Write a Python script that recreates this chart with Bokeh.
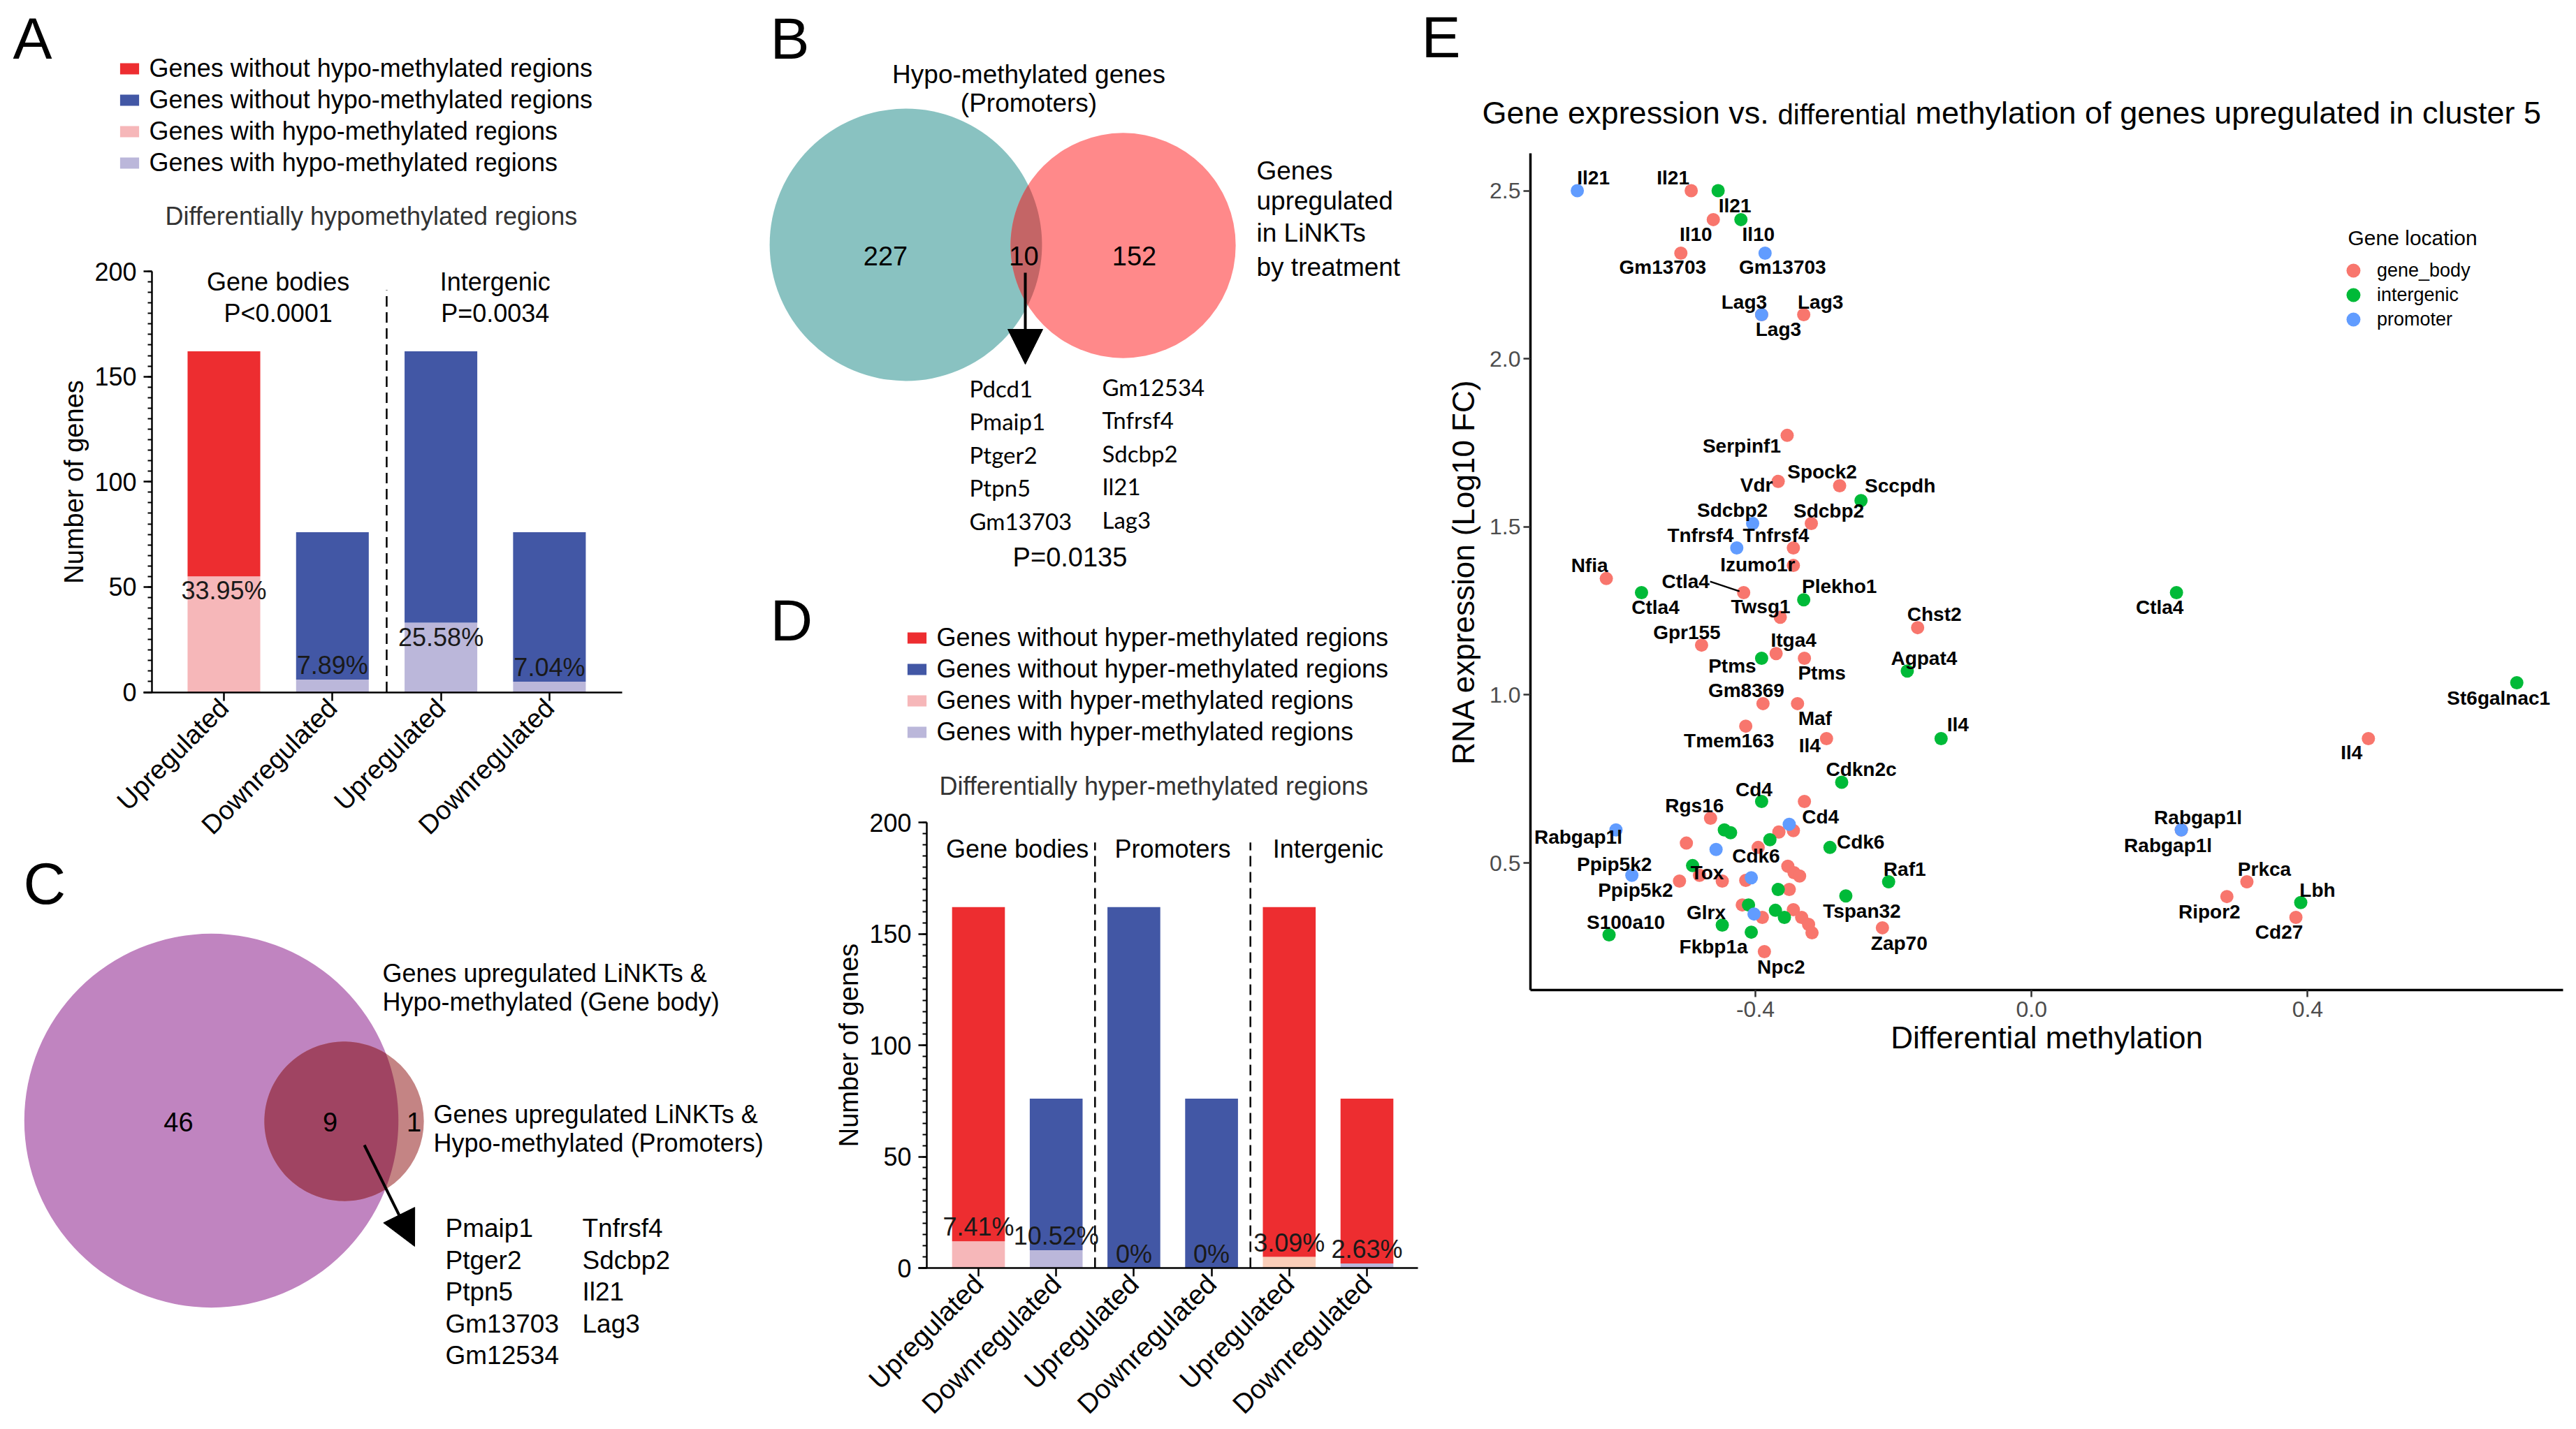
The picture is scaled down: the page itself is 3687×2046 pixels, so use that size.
import math
import numpy as np
from bokeh.plotting import figure
from bokeh.models import (ColumnDataSource, Range1d, LinearAxis, FixedTicker,
                          SingleIntervalTicker, Legend, LegendItem, Label, Arrow,
                          NormalHead, CDSView, GroupFilter, PrintfTickFormatter)
from bokeh.layouts import row, column
from bokeh.embed import file_html
from bokeh.resources import INLINE
from bokeh.core.properties import value

# ======================= DATA =======================
# Panel A : differentially hypo-methylated regions
A_categories = ["Upregulated", "Downregulated", "Upregulated", "Downregulated"]
A_groups = ["Gene bodies", "Intergenic"]
A_group_sizes = [2, 2]
A_pvalues = ["P<0.0001", "P=0.0034"]
A_total = [162, 76, 162, 76]
A_with = [55, 6, 33, 5]
A_percent = ["33.95%", "7.89%", "25.58%", "7.04%"]
A_legend = ["Genes without hypo-methylated regions", "Genes without hypo-methylated regions",
            "Genes with hypo-methylated regions", "Genes with hypo-methylated regions"]
A_subtitle = "Differentially hypomethylated regions"

# Panel D : differentially hyper-methylated regions
D_categories = ["Upregulated", "Downregulated"] * 3
D_groups = ["Gene bodies", "Promoters", "Intergenic"]
D_group_sizes = [2, 2, 2]
D_total = [162, 76, 162, 76, 162, 76]
D_with = [12, 8, 0, 0, 5, 2]
D_percent = ["7.41%", "10.52%", "0%", "0%", "3.09%", "2.63%"]
D_legend = ["Genes without hyper-methylated regions", "Genes without hyper-methylated regions",
            "Genes with hyper-methylated regions", "Genes with hyper-methylated regions"]
D_subtitle = "Differentially hyper-methylated regions"

# Panel B : Venn
B_counts = [227, 10, 152]          # left only, both, right only
B_left_title = ["Hypo-methylated genes", "(Promoters)"]
B_right_title = ["Genes", "upregulated", "in LiNKTs", "by treatment"]
B_genes_left = ["Pdcd1", "Pmaip1", "Ptger2", "Ptpn5", "Gm13703"]
B_genes_right = ["Gm12534", "Tnfrsf4", "Sdcbp2", "Il21", "Lag3"]
B_pvalue = "P=0.0135"

# Panel C : Venn
C_counts = [46, 9, 1]              # big only, both, small only
C_big_title = ["Genes upregulated LiNKTs &", "Hypo-methylated (Gene body)"]
C_small_title = ["Genes upregulated LiNKTs &", "Hypo-methylated (Promoters)"]
C_genes_left = ["Pmaip1", "Ptger2", "Ptpn5", "Gm13703", "Gm12534"]
C_genes_right = ["Tnfrsf4", "Sdcbp2", "Il21", "Lag3"]

# Panel E : scatter
E_gene = ["Il21", "Il21", "Il21", "Il10", "Il10", "Gm13703", "Gm13703", "Lag3", "Lag3", "Lag3",
          "Serpinf1", "Vdr", "Spock2", "Sccpdh", "Sdcbp2", "Sdcbp2", "Tnfrsf4", "Tnfrsf4", "Izumo1r", "Nfia",
          "Ctla4", "Ctla4", "Ctla4", "Twsg1", "Plekho1", "Chst2", "Gpr155", "Itga4", "Ptms", "Ptms",
          "Agpat4", "St6galnac1", "Gm8369", "Maf", "Tmem163", "Il4", "Il4", "Il4", "Cdkn2c", "Cd4",
          "Cd4", "Rgs16", "Rabgap1l", "Rabgap1l", "Rabgap1l", "", "", "", "", "Tox",
          "Ppip5k2", "Ppip5k2", "", "", "", "", "", "", "Glrx", "Fkbp1a",
          "S100a10", "", "", "", "", "Cdk6", "Cdk6", "", "", "",
          "Raf1", "", "", "Tspan32", "", "", "", "", "", "",
          "", "", "Zap70", "Npc2", "Prkca", "Ripor2", "Lbh", "Cd27"]
E_meth = [-0.658, -0.493, -0.454, -0.461, -0.421, -0.508, -0.386, -0.391, -0.330, -0.391,
          -0.354, -0.367, -0.278, -0.247, -0.404, -0.319, -0.427, -0.345, -0.345, -0.616,
          -0.565, -0.417, 0.210, -0.364, -0.330, -0.165, -0.478, -0.370, -0.391, -0.329,
          -0.180, 0.703, -0.389, -0.339, -0.414, -0.297, -0.131, 0.488, -0.275, -0.391,
          -0.329, -0.465, -0.602, 0.217, 0.217, -0.445, -0.436, -0.500, -0.457, -0.491,
          -0.579, -0.510, -0.481, -0.448, -0.414, -0.406, -0.419, -0.410, -0.448, -0.406,
          -0.612, -0.351, -0.366, -0.345, -0.379, -0.396, -0.292, -0.353, -0.344, -0.336,
          -0.207, -0.367, -0.351, -0.269, -0.402, -0.390, -0.371, -0.358, -0.345, -0.333,
          -0.323, -0.318, -0.216, -0.387, 0.312, 0.283, 0.390, 0.383]
E_expr = [2.500, 2.500, 2.500, 2.414, 2.414, 2.314, 2.314, 2.131, 2.131, 2.131,
          1.772, 1.635, 1.622, 1.578, 1.510, 1.510, 1.437, 1.437, 1.385, 1.346,
          1.304, 1.304, 1.304, 1.231, 1.283, 1.200, 1.148, 1.123, 1.109, 1.109,
          1.071, 1.036, 0.974, 0.974, 0.907, 0.870, 0.870, 0.870, 0.740, 0.683,
          0.683, 0.633, 0.598, 0.598, 0.598, 0.598, 0.590, 0.559, 0.540, 0.492,
          0.463, 0.446, 0.463, 0.446, 0.448, 0.456, 0.375, 0.375, 0.315, 0.294,
          0.286, 0.615, 0.592, 0.596, 0.569, 0.546, 0.546, 0.490, 0.471, 0.461,
          0.444, 0.421, 0.421, 0.402, 0.348, 0.338, 0.359, 0.338, 0.361, 0.338,
          0.317, 0.292, 0.307, 0.236, 0.444, 0.400, 0.382, 0.338]
_g, _i, _p = "gene_body", "intergenic", "promoter"
E_loc = [_p, _g, _i, _g, _i, _g, _p, _p, _g, _g,
         _g, _g, _g, _i, _p, _g, _p, _g, _g, _g,
         _i, _g, _i, _g, _i, _g, _g, _g, _i, _g,
         _i, _i, _g, _g, _g, _g, _i, _g, _i, _i,
         _g, _g, _p, _p, _g, _i, _i, _g, _p, _i,
         _p, _g, _g, _g, _g, _p, _g, _i, _i, _i,
         _i, _p, _g, _g, _i, _g, _i, _g, _g, _g,
         _i, _i, _g, _i, _p, _g, _i, _i, _g, _g,
         _g, _g, _g, _g, _g, _g, _i, _g]
E_locations = ["gene_body", "intergenic", "promoter"]
E_title = ["Gene expression vs.", "differential", "methylation of genes upregulated in cluster 5"]

# label placement (screen pixel offsets of the repelled labels)
E_label_dx = [23, -26, 24, -25, 25, -26, 25, -25, 24, 24,
              -65, -31, -25, 56, -29, 25, -52, -25, -51, -24,
              20, -83, -24, -28, 51, 24, -21, 25, -42, 25,
              24, -26, -24, 25, -24, -24, 24, -24, 28, -11,
              23, -23, -54, 24, -19, 0, 0, 0, 0, 21,
              -25, -63, 0, 0, 0, 0, 0, 0, -23, -54,
              24, 0, 0, 0, 0, -3, 44, 0, 0, 0,
              23, 0, 0, 23, 0, 0, 0, 0, 0, 0,
              0, 0, 24, 24, 25, -25, 24, -24]
E_label_dy = [-19, -19, 21, 21, 21, 20, 20, -18, -18, 21,
              15, 5, -20, -21, -19, -18, -18, -18, -1, -19,
              21, -16, 21, -15, -19, -19, -18, -19, 11, 21,
              -18, 22, -19, 21, 21, 10, -20, 20, -19, -17,
              22, -18, 10, -18, 22, 0, 0, 0, 0, 10,
              -16, 13, 0, 0, 0, 0, 0, 0, -18, 21,
              -18, 0, 0, 0, 0, 12, -8, 0, 0, 0,
              -18, 0, 0, 22, 0, 0, 0, 0, 0, 0,
              0, 0, 22, 22, -18, 22, -18, 21]

# ======================= STYLE =======================
FONT = "Liberation Sans"
RED, BLUE, PINK, LAV, PEACH = "#ED2D30", "#4257A5", "#F6B7B9", "#BBB7DA", "#F9CDB8"
LOC_COLORS = {"gene_body": "#F8766D", "intergenic": "#00BA38", "promoter": "#619CFF"}


def base_fig(w, h, xr, yr):
    p = figure(width=w, height=h, x_range=xr, y_range=yr, x_axis_type=None, y_axis_type=None,
               toolbar_location=None, output_backend="svg", outline_line_color=None,
               min_border=0, min_border_left=0, min_border_right=0,
               min_border_top=0, min_border_bottom=0)
    p.background_fill_color = "white"
    p.border_fill_color = "white"
    return p


def screen_label(p, px0, py0, h, x, y, text, size, align="left", baseline="middle",
                 color="black", angle=0.0, font=FONT, style="normal"):
    p.add_layout(Label(x=x - px0, y=(py0 + h) - y, x_units="screen", y_units="screen",
                       text=text, text_font=font, text_font_size=size, text_align=align,
                       text_baseline=baseline, text_color=color, angle=angle,
                       text_font_style=style))


def bar_panel(w, h, px0, py0, geo, cats, group_sizes, groups, total, withv, pct,
              top_cols, bot_cols, legend_labels, subtitle, letter, pvals=None):
    ppu = (geo["zero"] - geo["top"]) / 200.0

    def xv(px):
        return (px - geo["bar0"]) / geo["pitch"]

    def yv(py):
        return (geo["zero"] - py) / ppu

    p = base_fig(w, h, Range1d(xv(px0), xv(px0 + w)), Range1d(yv(py0 + h), yv(py0)))
    n = len(cats)
    idx = list(range(n))
    src = ColumnDataSource(dict(x=idx, total=total, low=withv, tc=top_cols, bc=bot_cols))
    r_bot = p.vbar(x="x", bottom=0, top="low", width=geo["bw"], fill_color="bc",
                   line_color=None, source=src)
    r_top = p.vbar(x="x", bottom="low", top="total", width=geo["bw"], fill_color="tc",
                   line_color=None, source=src)

    # axes
    yax = LinearAxis(fixed_location=xv(geo["yaxis"]), bounds=(0, 200),
                     ticker=SingleIntervalTicker(interval=50, num_minor_ticks=10),
                     axis_label="Number of genes")
    xax = LinearAxis(fixed_location=0, bounds=(xv(geo["xl"]), xv(geo["xr"])),
                     ticker=FixedTicker(ticks=idx),
                     major_label_overrides={i: c for i, c in enumerate(cats)},
                     major_label_orientation=math.pi / 4)
    for ax in (yax, xax):
        ax.axis_line_width = 2.5
        ax.axis_line_color = "black"
        ax.major_tick_line_width = 2.5
        ax.minor_tick_line_width = 2
        ax.major_tick_out = 12
        ax.major_tick_in = 0
        ax.minor_tick_out = 6
        ax.minor_tick_in = 0
        ax.major_label_text_font = FONT
        ax.major_label_text_font_size = "36px"
        ax.major_label_text_color = "black"
        ax.axis_label_text_font = FONT
        ax.axis_label_text_font_size = "38px"
        ax.axis_label_text_font_style = "normal"
        ax.axis_label_text_color = "black"
    xax.minor_tick_line_color = None
    xax.major_label_text_font_size = geo["xfont"]
    xax.major_label_standoff = 4
    yax.major_label_standoff = 10
    yax.axis_label_standoff = 5
    p.add_layout(yax, "left")
    p.add_layout(xax, "below")

    # group separators and titles
    starts = np.cumsum([0] + group_sizes[:-1])
    centers = [s + (g - 1) / 2.0 for s, g in zip(starts, group_sizes)]
    seps = [s - 0.5 for s in starts[1:]]
    p.segment(x0=seps, y0=[0] * len(seps), x1=seps, y1=[191] * len(seps),
              line_color="black", line_width=2.5, line_dash="15 8")
    p.text(x=centers, y=[geo["gtitle"]] * len(centers), text=groups, text_font=value(FONT),
           text_font_size="36px", text_align="center", text_baseline="middle", text_color="black")
    if pvals:
        p.text(x=centers, y=[geo["ptitle"]] * len(centers), text=pvals, text_font=value(FONT),
               text_font_size="36px", text_align="center", text_baseline="middle",
               text_color="black")

    # percentages
    hi = [i for i in idx if withv[i] >= 20]
    lo = [i for i in idx if withv[i] < 20]
    for sel, base in ((hi, "top"), (lo, "bottom")):
        if sel:
            p.text(x=sel, y=[withv[i] for i in sel], text=[pct[i] for i in sel],
                   text_font=value(FONT), text_font_size="36px", text_align="center",
                   text_baseline=base, text_color="#1a1a1a")

    # legend
    items = [LegendItem(label=value(legend_labels[0]), renderers=[r_top], index=0),
             LegendItem(label=value(legend_labels[1]), renderers=[r_top], index=1),
             LegendItem(label=value(legend_labels[2]), renderers=[r_bot], index=0),
             LegendItem(label=value(legend_labels[3]), renderers=[r_bot], index=1)]
    lx, ly = geo["legend"]
    leg = Legend(items=items, location=(lx - px0, (py0 + h) - ly), glyph_width=34,
                 glyph_height=20, label_height=45, label_standoff=12, spacing=0, padding=0,
                 margin=0, border_line_color=None, background_fill_alpha=0,
                 label_text_font=FONT, label_text_font_size="36px", label_text_color="black")
    p.add_layout(leg)

    sx, sy = geo["subtitle"]
    screen_label(p, px0, py0, h, sx, sy, subtitle, "36px", color="#333333")
    lx, ly = geo["letter"]
    screen_label(p, px0, py0, h, lx, ly, letter, "84px")
    return p


def lens(c1, r1, c2, r2, n=120):
    dx, dy = c2[0] - c1[0], c2[1] - c1[1]
    d = math.hypot(dx, dy)
    a = (r1 ** 2 - r2 ** 2 + d ** 2) / (2 * d)
    base1 = math.atan2(dy, dx)
    base2 = math.atan2(-dy, -dx)
    al = math.acos(max(-1, min(1, a / r1)))
    be = math.acos(max(-1, min(1, (d - a) / r2)))
    t1 = np.linspace(base1 - al, base1 + al, n)
    t2 = np.linspace(base2 - be, base2 + be, n)
    xs = list(c1[0] + r1 * np.cos(t1)) + list(c2[0] + r2 * np.cos(t2))
    ys = list(c1[1] + r1 * np.sin(t1)) + list(c2[1] + r2 * np.sin(t2))
    return xs, ys


def page_fig(w, h, px0, py0):
    return base_fig(w, h, Range1d(px0, px0 + w), Range1d(py0 + h, py0))


def ptext(p, xs, ys, texts, size, align="left", baseline="middle", font=FONT, color="black"):
    p.text(x=xs, y=ys, text=texts, text_font=value(font), text_font_size=size,
           text_align=align, text_baseline=baseline, text_color=color)


PAGE_W, PAGE_H = 3687, 2046
SPLIT_X1, SPLIT_X2 = 1100, 2030
SPLIT_AC, SPLIT_BD = 1212, 835

# ======================= PANEL A =======================
A_W, A_H, A_X0, A_Y0 = SPLIT_X1, SPLIT_AC, 0, 0
A_geo = dict(zero=990.5, top=388, bar0=320, pitch=155.3, bw=0.67, yaxis=217, xl=205, xr=890,
             gtitle=195, ptitle=180, legend=(167.6, 255.5), subtitle=(236, 309), letter=(18, 54),
             xfont="38px")
pA = bar_panel(A_W, A_H, A_X0, A_Y0, A_geo, A_categories, A_group_sizes, A_groups, A_total,
               A_with, A_percent, [RED, BLUE, BLUE, BLUE], [PINK, LAV, LAV, LAV], A_legend,
               A_subtitle, "A", pvals=A_pvalues)

# ======================= PANEL D =======================
D_W, D_H, D_X0, D_Y0 = SPLIT_X2 - SPLIT_X1, PAGE_H - SPLIT_BD, SPLIT_X1, SPLIT_BD
D_geo = dict(zero=1815, top=1177, bar0=1400, pitch=111.2, bw=0.68, yaxis=1326, xl=1314, xr=2029,
             gtitle=188, ptitle=None, legend=(1294.6, 1070.5), subtitle=(1344, 1125),
             letter=(1102, 887), xfont="39px")
pD = bar_panel(D_W, D_H, D_X0, D_Y0, D_geo, D_categories, D_group_sizes, D_groups, D_total,
               D_with, D_percent, [RED, BLUE, BLUE, BLUE, RED, RED],
               [PINK, LAV, LAV, LAV, PEACH, LAV], D_legend, D_subtitle, "D")

# ======================= PANEL B =======================
B_W, B_H, B_X0, B_Y0 = SPLIT_X2 - SPLIT_X1, SPLIT_BD, SPLIT_X1, 0
pB = page_fig(B_W, B_H, B_X0, B_Y0)
kB = 12.66
cL, cR = (1296, 350), (1607, 351)
rL = kB * math.sqrt(B_counts[0] + B_counts[1])
rR = kB * math.sqrt(B_counts[2] + B_counts[1])
pB.circle(x=[cL[0]], y=[cL[1]], radius=rL, fill_color="#89C2C1", line_color=None)
pB.circle(x=[cR[0]], y=[cR[1]], radius=rR, fill_color="#FF898A", line_color=None)
lx, ly = lens(cL, rL, cR, rR)
pB.patch(lx, ly, fill_color="#C46566", line_color=None)
ptext(pB, [1267, 1465, 1623], [366, 366, 366], [str(c) for c in B_counts], "38px", align="center")
ptext(pB, [1472, 1472], [106, 147], B_left_title, "37px", align="center")
ptext(pB, [1798] * 4, [244, 287, 333, 382], B_right_title, "37px")
pB.add_layout(Arrow(end=NormalHead(size=50, fill_color="black", line_color="black"),
                    x_start=1467, y_start=390, x_end=1467, y_end=521,
                    line_width=4, line_color="black"))
ptext(pB, [1387] * 5, [555 + 47.5 * i for i in range(5)], B_genes_left, "33px", font="Lato")
ptext(pB, [1577] * 5, [553 + 47.5 * i for i in range(5)], B_genes_right, "33px", font="Lato")
ptext(pB, [1531], [797], [B_pvalue], "38px", align="center")
ptext(pB, [1102], [54], ["B"], "84px")

# ======================= PANEL C =======================
C_W, C_H, C_X0, C_Y0 = SPLIT_X1, PAGE_H - SPLIT_AC, 0, SPLIT_AC
pC = page_fig(C_W, C_H, C_X0, C_Y0)
kC = 36.1
cB, cS = (302, 1604), (492, 1605)
rB = kC * math.sqrt(C_counts[0] + C_counts[1])
rS = kC * math.sqrt(C_counts[2] + C_counts[1])
pC.circle(x=[cB[0]], y=[cB[1]], radius=rB, fill_color="#C084C0", line_color=None)
pC.circle(x=[cS[0]], y=[cS[1]], radius=rS, fill_color="#C48484", line_color=None)
lx, ly = lens(cB, rB, cS, rS)
pC.patch(lx, ly, fill_color="#A04462", line_color=None)
ptext(pC, [255, 472, 592], [1606, 1606, 1606], [str(c) for c in C_counts], "38px", align="center")
ptext(pC, [547, 547], [1393, 1434], C_big_title, "36px")
ptext(pC, [620, 620], [1595, 1636], C_small_title, "36px")
pC.add_layout(Arrow(end=NormalHead(size=50, fill_color="black", line_color="black"),
                    x_start=521, y_start=1639, x_end=593, y_end=1784,
                    line_width=4, line_color="black"))
ptext(pC, [637] * 5, [1758 + 45.5 * i for i in range(5)], C_genes_left, "37px")
ptext(pC, [833] * 4, [1758 + 45.5 * i for i in range(4)], C_genes_right, "37px")
ptext(pC, [33], [1264], ["C"], "84px")

# ======================= PANEL E =======================
E_W, E_H, E_X0, E_Y0 = PAGE_W - SPLIT_X2, PAGE_H, SPLIT_X2, 0
EX_PPU, EY_PPU = 988.0, 481.25      # pixels per data unit


def exv(px):
    return -0.4 + (px - 2512) / EX_PPU


def eyv(py):
    return 2.5 - (py - 272.5) / EY_PPU


pE = base_fig(E_W, E_H, Range1d(exv(E_X0), exv(E_X0 + E_W)), Range1d(eyv(E_Y0 + E_H), eyv(E_Y0)))
x_left, x_right = exv(2190), exv(3668)
y_bot, y_top = eyv(1417), eyv(219)

srcE = ColumnDataSource(dict(x=E_meth, y=E_expr, loc=E_loc, gene=E_gene,
                             dx=E_label_dx, dy=E_label_dy,
                             color=[LOC_COLORS[l] for l in E_loc]))
rend = {}
for loc in E_locations:
    rend[loc] = pE.scatter(x="x", y="y", size=19, fill_color="color", line_color=None,
                           source=srcE, view=CDSView(filter=GroupFilter(column_name="loc", group=loc)))

lab_idx = [i for i, g in enumerate(E_gene) if g]
lab_src = ColumnDataSource(dict(x=[E_meth[i] for i in lab_idx], y=[E_expr[i] for i in lab_idx],
                                t=[E_gene[i] for i in lab_idx], dx=[E_label_dx[i] for i in lab_idx],
                                dy=[E_label_dy[i] for i in lab_idx]))
pE.text(x="x", y="y", text="t", x_offset="dx", y_offset="dy", source=lab_src,
        text_font=value(FONT), text_font_size="28px", text_font_style="bold",
        text_align="center", text_baseline="middle", text_color="black")
# connector for the displaced Ctla4 label
ci = [i for i in range(len(E_gene)) if E_gene[i] == "Ctla4" and E_loc[i] == "gene_body"][0]
pE.segment(x0=[E_meth[ci] - 48 / EX_PPU], y0=[E_expr[ci] + 16 / EY_PPU],
           x1=[E_meth[ci] - 6 / EX_PPU], y1=[E_expr[ci] + 2 / EY_PPU],
           line_color="black", line_width=2.5)

eyax = LinearAxis(fixed_location=x_left, bounds=(y_bot, y_top),
                  ticker=FixedTicker(ticks=[0.5, 1.0, 1.5, 2.0, 2.5]),
                  formatter=PrintfTickFormatter(format="%.1f"),
                  axis_label="RNA expression (Log10 FC)")
exax = LinearAxis(fixed_location=y_bot, bounds=(x_left, x_right),
                  ticker=FixedTicker(ticks=[-0.4, 0.0, 0.4]),
                  formatter=PrintfTickFormatter(format="%.1f"),
                  axis_label="Differential methylation")
for ax in (eyax, exax):
    ax.axis_line_width = 3.5
    ax.axis_line_color = "black"
    ax.major_tick_line_width = 2.5
    ax.major_tick_line_color = "#333333"
    ax.major_tick_out = 10
    ax.major_tick_in = 0
    ax.minor_tick_line_color = None
    ax.major_label_text_font = FONT
    ax.major_label_text_font_size = "32px"
    ax.major_label_text_color = "#4D4D4D"
    ax.axis_label_text_font = FONT
    ax.axis_label_text_font_size = "44px"
    ax.axis_label_text_font_style = "normal"
    ax.axis_label_text_color = "black"
eyax.major_label_standoff = 4
eyax.axis_label_standoff = 10
exax.major_label_standoff = 6
exax.axis_label_standoff = 2
pE.add_layout(eyax, "left")
pE.add_layout(exax, "below")

# legend: one entry per box so the rows can sit 35 px apart with 20 px keys
for k, loc in enumerate(E_locations):
    cy = 387 + 35 * k
    pE.add_layout(Legend(items=[LegendItem(label=value(loc), renderers=[rend[loc]])],
                         location=(3343 - E_X0, (E_Y0 + E_H) - (cy + 25)),
                         glyph_width=50, glyph_height=50, label_height=20, label_standoff=9,
                         spacing=0, padding=0, margin=0, border_line_color=None,
                         background_fill_alpha=0, label_text_font=FONT,
                         label_text_font_size="27px", label_text_color="black"))
screen_label(pE, E_X0, E_Y0, E_H, 3360, 340, "Gene location", "30px")

screen_label(pE, E_X0, E_Y0, E_H, 2121, 161, E_title[0], "45px")
screen_label(pE, E_X0, E_Y0, E_H, 2544, 163, E_title[1], "40px")
screen_label(pE, E_X0, E_Y0, E_H, 2741, 161, E_title[2], "45px")
screen_label(pE, E_X0, E_Y0, E_H, 2034, 52, "E", "84px")

layout = row(column(pA, pC), column(pB, pD), pE)
open("out.html", "w").write(file_html(layout, INLINE))
